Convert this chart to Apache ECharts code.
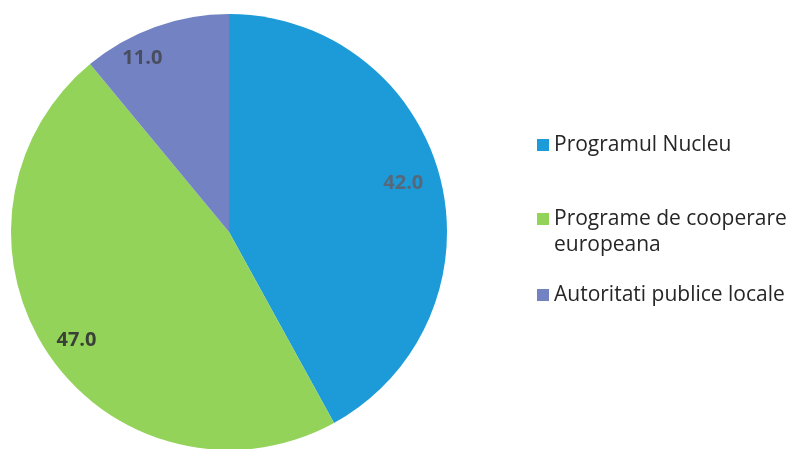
<!DOCTYPE html>
<html><head><meta charset="utf-8">
<script src="https://cdn.jsdelivr.net/npm/echarts@6/dist/echarts.min.js"></script>
<style>html,body{margin:0;padding:0;background:#fff}#c{width:792px;height:449px}</style>
</head><body><div id="c"></div>
<script>
const categories = ['Programul Nucleu', 'Programe de cooperare europeana', 'Autoritati publice locale'];
const values = [42.0, 47.0, 11.0];
const colors = ['#1d9bd8', '#93d35a', '#7282c2'];
const legendLabels = ['Programul Nucleu', ' \nPrograme de cooperare\neuropeana', 'Autoritati publice locale'];

const labelColors = ['#56687a', '#3a4038', '#4a4d60'];
const labelOffsets = [[-2, -3], [-2, 6], [-25, -2]];

const chart = echarts.init(document.getElementById('c'));
const data = categories.map((n, i) => ({ name: n, value: values[i], itemStyle: { color: colors[i] } }));
const legendTops = [132, 180, 282];
const legends = categories.map((n, i) => ({
  data: [n], left: 537, top: legendTops[i], orient: 'vertical', padding: 0,
  itemWidth: 12, itemHeight: 12, itemGap: 0, icon: 'rect',
  formatter: () => legendLabels[i],
  textStyle: { fontFamily: 'Open Sans', fontSize: 21, color: '#262626', lineHeight: 26 },
  selectedMode: false
}));
chart.setOption({
  animation: false,
  legend: legends,
  series: [
    { type: 'pie', center: [229, 232], radius: [0, 218], startAngle: 90, clockwise: true,
      data: data, label: { show: false }, labelLine: { show: false }, silent: true },
    { type: 'pie', center: [229, 232], radius: [140, 218], startAngle: 90, clockwise: true,
      data: categories.map((n, i) => ({ name: n, value: values[i], itemStyle: { color: 'transparent' },
        label: { color: labelColors[i], offset: labelOffsets[i] } })),
      label: { show: true, position: 'inside', formatter: p => p.value.toFixed(1),
        fontFamily: 'Open Sans', fontSize: 20, fontWeight: 'bold' },
      labelLine: { show: false }, silent: true }
  ]
});
</script></body></html>
